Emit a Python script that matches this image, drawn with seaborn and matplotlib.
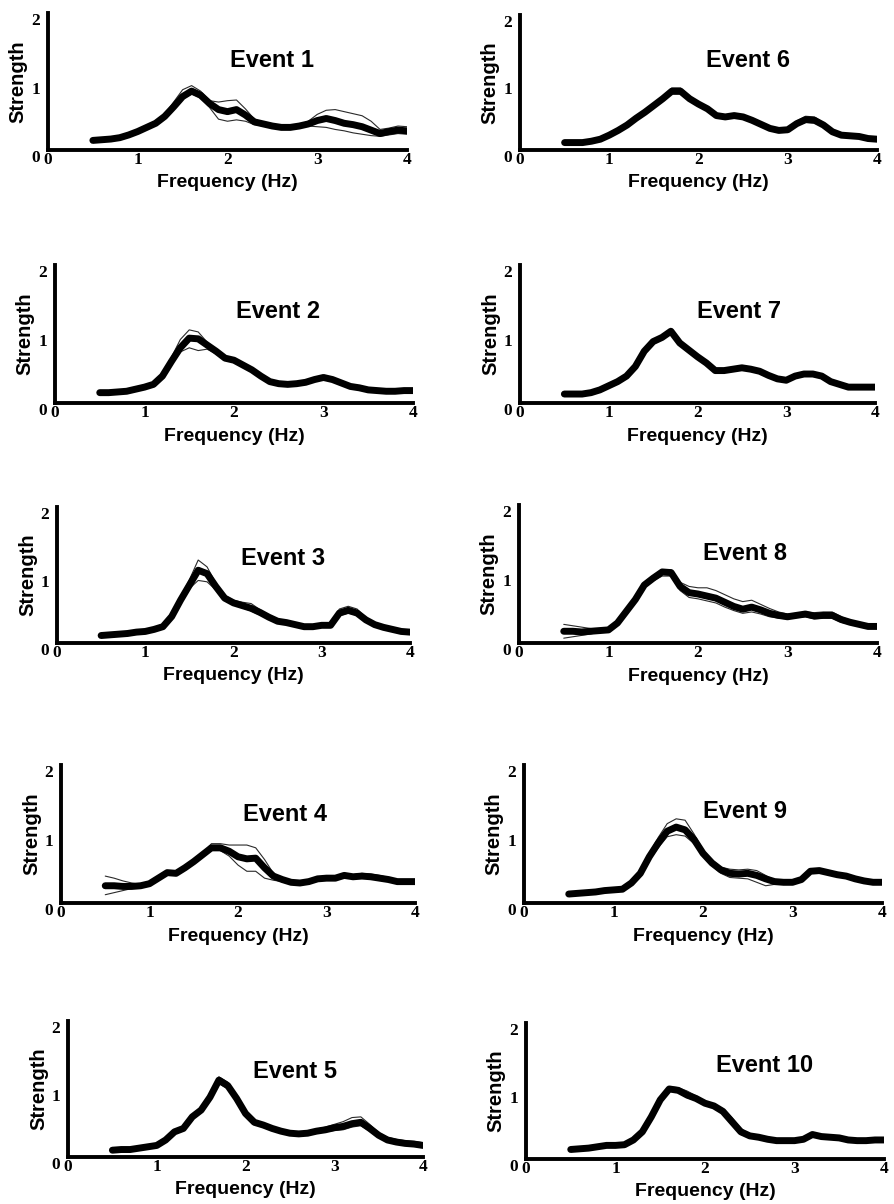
import numpy as np
import pandas as pd
import matplotlib
matplotlib.use("Agg")
import matplotlib.pyplot as plt
import seaborn as sns

# ---------------- data ----------------
freq = [0.5, 0.6, 0.7, 0.8, 0.9, 1.0, 1.1, 1.2, 1.3, 1.4, 1.5, 1.6, 1.7, 1.8, 1.9, 2.0, 2.1, 2.2,
        2.3, 2.4, 2.5, 2.6, 2.7, 2.8, 2.9, 3.0, 3.1, 3.2, 3.3, 3.4, 3.5, 3.6, 3.7, 3.8, 3.9, 4.0]

event_names = ["Event 1", "Event 2", "Event 3", "Event 4", "Event 5",
               "Event 6", "Event 7", "Event 8", "Event 9", "Event 10"]

x_ticks = [0, 1, 2, 3, 4]
y_ticks = [0, 1, 2]
x_label = "Frequency (Hz)"
y_label = "Strength"

e1_mean = [0.14,0.15,0.16,0.18,0.22,0.27,0.33,0.39,0.49,0.63,0.78,0.86,0.80,0.68,0.59,0.56,0.59,0.51,
           0.41,0.38,0.35,0.33,0.33,0.35,0.38,0.43,0.46,0.43,0.39,0.37,0.34,0.29,0.24,0.27,0.29,0.28]
e1_upper = [0.15,0.16,0.17,0.19,0.23,0.28,0.34,0.41,0.52,0.70,0.88,0.94,0.86,0.72,0.70,0.72,0.73,0.60,
            0.45,0.40,0.37,0.35,0.34,0.37,0.42,0.52,0.58,0.59,0.56,0.53,0.50,0.42,0.30,0.32,0.35,0.34]
e1_lower = [0.13,0.14,0.15,0.17,0.21,0.26,0.32,0.38,0.47,0.60,0.74,0.82,0.76,0.62,0.45,0.42,0.44,0.42,
            0.37,0.35,0.33,0.31,0.31,0.33,0.35,0.34,0.33,0.30,0.28,0.25,0.23,0.21,0.20,0.22,0.24,0.23]

e2_mean = [0.15,0.15,0.16,0.17,0.20,0.23,0.27,0.39,0.60,0.80,0.94,0.93,0.84,0.75,0.65,0.62,0.55,0.48,
           0.39,0.31,0.28,0.27,0.28,0.30,0.34,0.37,0.34,0.29,0.24,0.22,0.19,0.18,0.17,0.17,0.18,0.18]
e2_upper = [0.16,0.16,0.17,0.18,0.21,0.24,0.28,0.41,0.66,0.92,1.06,1.03,0.88,0.78,0.68,0.64,0.58,0.50,
            0.41,0.33,0.29,0.28,0.29,0.32,0.36,0.39,0.37,0.31,0.26,0.23,0.20,0.19,0.18,0.18,0.19,0.19]
e2_lower = [0.14,0.14,0.15,0.16,0.19,0.22,0.26,0.37,0.57,0.74,0.80,0.76,0.78,0.71,0.62,0.59,0.52,0.45,
            0.37,0.30,0.27,0.26,0.27,0.29,0.32,0.35,0.32,0.27,0.23,0.21,0.18,0.17,0.16,0.16,0.17,0.17]

e3_mean = [0.11,0.12,0.13,0.14,0.16,0.17,0.20,0.24,0.39,0.63,0.85,1.07,1.02,0.83,0.66,0.59,0.55,0.51,
           0.45,0.38,0.32,0.30,0.27,0.24,0.24,0.26,0.26,0.44,0.48,0.44,0.34,0.27,0.23,0.20,0.17,0.16]
e3_upper = [0.12,0.13,0.14,0.15,0.17,0.18,0.21,0.25,0.41,0.67,0.93,1.22,1.12,0.88,0.70,0.63,0.60,0.58,
            0.49,0.40,0.34,0.31,0.28,0.25,0.25,0.27,0.28,0.50,0.54,0.50,0.37,0.29,0.24,0.21,0.18,0.17]
e3_lower = [0.10,0.11,0.12,0.13,0.15,0.16,0.19,0.23,0.37,0.60,0.80,0.92,0.90,0.78,0.63,0.56,0.52,0.47,
            0.41,0.36,0.30,0.29,0.26,0.23,0.23,0.25,0.25,0.40,0.44,0.41,0.32,0.26,0.22,0.19,0.16,0.15]

e4_mean = [0.25,0.25,0.24,0.24,0.25,0.28,0.36,0.44,0.43,0.51,0.60,0.70,0.80,0.80,0.75,0.67,0.64,0.65,
           0.51,0.39,0.34,0.30,0.29,0.31,0.35,0.36,0.36,0.40,0.38,0.39,0.38,0.36,0.34,0.31,0.31,0.31]
e4_upper = [0.39,0.36,0.32,0.29,0.27,0.29,0.37,0.46,0.45,0.53,0.62,0.72,0.86,0.86,0.84,0.84,0.84,0.80,
            0.63,0.43,0.36,0.32,0.31,0.33,0.37,0.38,0.38,0.42,0.41,0.43,0.42,0.40,0.37,0.34,0.33,0.33]
e4_lower = [0.12,0.15,0.18,0.21,0.23,0.27,0.34,0.42,0.41,0.49,0.58,0.68,0.76,0.76,0.68,0.55,0.46,0.46,
            0.36,0.33,0.31,0.28,0.27,0.29,0.33,0.34,0.34,0.37,0.36,0.36,0.35,0.33,0.31,0.28,0.28,0.27]

e5_mean = [0.10,0.11,0.11,0.13,0.15,0.17,0.25,0.37,0.42,0.59,0.69,0.88,1.13,1.05,0.86,0.64,0.51,0.47,
           0.42,0.38,0.35,0.34,0.35,0.38,0.40,0.43,0.45,0.49,0.51,0.42,0.32,0.25,0.22,0.20,0.19,0.17]
e5_upper = [0.11,0.12,0.12,0.14,0.16,0.18,0.26,0.39,0.44,0.61,0.72,0.92,1.18,1.10,0.90,0.67,0.53,0.49,
            0.44,0.40,0.37,0.36,0.37,0.41,0.44,0.48,0.52,0.58,0.59,0.48,0.36,0.29,0.26,0.24,0.23,0.21]
e5_lower = [0.09,0.10,0.10,0.12,0.14,0.16,0.24,0.35,0.40,0.57,0.66,0.84,1.08,1.00,0.82,0.61,0.49,0.45,
            0.40,0.36,0.33,0.32,0.33,0.35,0.37,0.39,0.40,0.44,0.46,0.38,0.29,0.22,0.19,0.17,0.16,0.14]

e6_mean = [0.11,0.11,0.11,0.13,0.16,0.22,0.29,0.37,0.47,0.56,0.66,0.76,0.87,0.87,0.76,0.68,0.61,0.51,
           0.49,0.51,0.49,0.44,0.38,0.32,0.29,0.30,0.39,0.45,0.44,0.37,0.27,0.22,0.21,0.20,0.17,0.16]
e6_upper = [0.12,0.12,0.12,0.14,0.17,0.23,0.30,0.38,0.48,0.58,0.68,0.79,0.92,0.92,0.79,0.70,0.63,0.53,
            0.52,0.54,0.52,0.46,0.40,0.34,0.31,0.33,0.43,0.50,0.49,0.40,0.29,0.23,0.22,0.21,0.18,0.17]
e6_lower = [0.10,0.10,0.10,0.12,0.15,0.21,0.28,0.36,0.46,0.54,0.64,0.73,0.83,0.83,0.73,0.66,0.59,0.49,
            0.47,0.48,0.46,0.42,0.36,0.30,0.28,0.28,0.36,0.41,0.40,0.34,0.25,0.21,0.20,0.19,0.16,0.15]

e7_mean = [0.13,0.13,0.13,0.15,0.19,0.25,0.31,0.39,0.53,0.75,0.89,0.95,1.04,0.87,0.77,0.67,0.58,0.47,
           0.47,0.49,0.51,0.49,0.46,0.40,0.35,0.33,0.39,0.42,0.42,0.39,0.31,0.27,0.23,0.23,0.23,0.23]
e7_upper = [0.14,0.14,0.14,0.16,0.20,0.26,0.32,0.41,0.55,0.78,0.92,0.98,1.07,0.90,0.79,0.69,0.60,0.49,
            0.49,0.51,0.53,0.51,0.48,0.42,0.37,0.35,0.41,0.44,0.44,0.41,0.33,0.28,0.24,0.24,0.24,0.24]
e7_lower = [0.12,0.12,0.12,0.14,0.18,0.24,0.30,0.37,0.51,0.72,0.86,0.93,1.00,0.85,0.75,0.65,0.56,0.45,
            0.45,0.47,0.49,0.47,0.44,0.38,0.33,0.31,0.37,0.40,0.40,0.37,0.29,0.26,0.22,0.22,0.22,0.22]

e8_mean = [0.17,0.17,0.16,0.17,0.18,0.19,0.29,0.46,0.63,0.84,0.94,1.03,1.02,0.82,0.73,0.71,0.68,0.65,
           0.59,0.53,0.49,0.52,0.48,0.43,0.40,0.38,0.40,0.42,0.39,0.40,0.40,0.34,0.30,0.27,0.24,0.24]
e8_upper = [0.27,0.25,0.23,0.21,0.20,0.20,0.30,0.48,0.66,0.88,0.98,1.06,1.06,0.88,0.82,0.80,0.80,0.76,
            0.70,0.64,0.60,0.62,0.56,0.50,0.45,0.42,0.43,0.45,0.44,0.45,0.45,0.38,0.33,0.30,0.27,0.26]
e8_lower = [0.07,0.09,0.11,0.13,0.16,0.18,0.28,0.44,0.60,0.80,0.90,0.97,0.97,0.76,0.66,0.64,0.61,0.58,
            0.52,0.47,0.43,0.45,0.42,0.38,0.36,0.35,0.37,0.38,0.35,0.36,0.36,0.30,0.27,0.24,0.22,0.22]

e9_mean = [0.13,0.14,0.15,0.16,0.18,0.19,0.20,0.29,0.43,0.67,0.87,1.04,1.10,1.06,0.92,0.72,0.58,0.48,
           0.43,0.42,0.43,0.40,0.35,0.31,0.30,0.30,0.34,0.46,0.47,0.44,0.41,0.39,0.35,0.32,0.30,0.30]
e9_upper = [0.14,0.15,0.16,0.17,0.19,0.20,0.21,0.31,0.46,0.72,0.95,1.15,1.22,1.20,1.00,0.77,0.62,0.52,
            0.49,0.48,0.49,0.47,0.40,0.33,0.31,0.31,0.36,0.49,0.50,0.47,0.43,0.41,0.37,0.34,0.32,0.32]
e9_lower = [0.12,0.13,0.14,0.15,0.17,0.18,0.19,0.27,0.40,0.62,0.80,0.96,0.99,0.97,0.86,0.68,0.54,0.43,
            0.37,0.36,0.35,0.30,0.25,0.27,0.28,0.28,0.32,0.43,0.44,0.41,0.39,0.37,0.33,0.30,0.28,0.28]

e10_mean = [0.14,0.15,0.16,0.18,0.20,0.20,0.21,0.28,0.40,0.62,0.87,1.03,1.01,0.94,0.89,0.82,0.78,0.70,
            0.55,0.40,0.34,0.32,0.29,0.27,0.27,0.27,0.29,0.36,0.33,0.32,0.31,0.28,0.27,0.27,0.28,0.28]
e10_upper = [0.15,0.16,0.17,0.19,0.21,0.21,0.22,0.29,0.42,0.65,0.90,1.06,1.05,1.00,0.93,0.85,0.81,0.74,
             0.61,0.45,0.36,0.33,0.30,0.28,0.28,0.28,0.30,0.38,0.35,0.34,0.33,0.30,0.29,0.29,0.30,0.30]
e10_lower = [0.13,0.14,0.15,0.17,0.19,0.19,0.20,0.27,0.38,0.59,0.84,1.00,0.98,0.90,0.86,0.79,0.75,0.66,
             0.50,0.36,0.32,0.31,0.28,0.26,0.26,0.26,0.28,0.34,0.31,0.30,0.29,0.26,0.25,0.25,0.26,0.26]

means = [e1_mean, e2_mean, e3_mean, e4_mean, e5_mean, e6_mean, e7_mean, e8_mean, e9_mean, e10_mean]
uppers = [e1_upper, e2_upper, e3_upper, e4_upper, e5_upper, e6_upper, e7_upper, e8_upper, e9_upper, e10_upper]
lowers = [e1_lower, e2_lower, e3_lower, e4_lower, e5_lower, e6_lower, e7_lower, e8_lower, e9_lower, e10_lower]

# ---------------- layout (pixels: left, bottom, right, top) ----------------
W, H = 894, 1204
boxes = [(48, 150, 407, 13), (55, 403, 413, 265), (57, 643, 410, 507), (61, 903, 415, 765),
         (68, 1157, 423, 1021), (520, 150, 877, 15), (520, 403, 875, 265), (519, 643, 877, 505),
         (524, 903, 882, 765), (526, 1159, 884, 1023)]
title_pos = [(2.50, 1.31), (2.49, 1.32), (2.56, 1.25), (2.53, 1.28), (2.56, 1.25),
             (2.55, 1.33), (2.47, 1.32), (2.53, 1.30), (2.47, 1.32), (2.66, 1.38)]

sns.set_theme(style="white")
plt.rcParams['font.family'] = ['Liberation Sans', 'DejaVu Sans']

fig = plt.figure(figsize=(W / 100, H / 100), dpi=100)
fig.patch.set_facecolor("white")

for i, name in enumerate(event_names):
    l, b, r, t = boxes[i]
    ax = fig.add_axes([l / W, 1 - b / H, (r - l) / W, (b - t) / H])
    ax.set_facecolor("white")
    df_thin = pd.DataFrame({
        "freq": freq + freq,
        "strength": uppers[i] + lowers[i],
        "trace": ["upper"] * len(freq) + ["lower"] * len(freq),
    })
    df_mean = pd.DataFrame({"freq": freq, "strength": means[i]})
    sns.lineplot(data=df_thin, x="freq", y="strength", units="trace", estimator=None,
                 color="#2a2a2a", linewidth=0.8, ax=ax)
    sns.lineplot(data=df_mean, x="freq", y="strength", estimator=None,
                 color="black", linewidth=5.0, ax=ax, solid_capstyle="round")
    ax.set_xlim(0, 4)
    ax.set_ylim(0, 2)
    ax.set_xticks(x_ticks)
    ax.set_yticks(y_ticks)
    ax.set_xticklabels([str(v) for v in x_ticks], fontfamily="Liberation Serif",
                       fontweight="bold", fontsize=12.5)
    ax.set_yticklabels([str(v) for v in y_ticks], fontfamily="Liberation Serif",
                       fontweight="bold", fontsize=12.5, va="top")
    for side in ["top", "right"]:
        ax.spines[side].set_visible(False)
    for side in ["left", "bottom"]:
        ax.spines[side].set_linewidth(2.8)
        ax.spines[side].set_color("black")
        ax.spines[side].set_capstyle("projecting")
    ax.tick_params(axis="both", direction="inout", length=5, width=3, color="black",
                   labelcolor="black")
    ax.tick_params(axis="x", pad=-1)
    ax.tick_params(axis="y", pad=3)
    ax.set_xlabel(x_label, fontsize=14, fontweight="bold", color="black")
    ax.set_ylabel(y_label, fontsize=14.5, fontweight="bold", color="black")
    ax.xaxis.set_label_coords(0.5, -0.24)
    ax.xaxis.label.set_va("center")
    ax.yaxis.set_label_coords(-0.083, 0.5)
    ax.yaxis.label.set_va("center")
    tx, ty = title_pos[i]
    ax.text(tx, ty, name, ha="center", va="center", fontsize=17, fontweight="bold",
            color="black")
    if ax.get_legend() is not None:
        ax.get_legend().remove()

fig.savefig("out.png", dpi=100, facecolor="white")
